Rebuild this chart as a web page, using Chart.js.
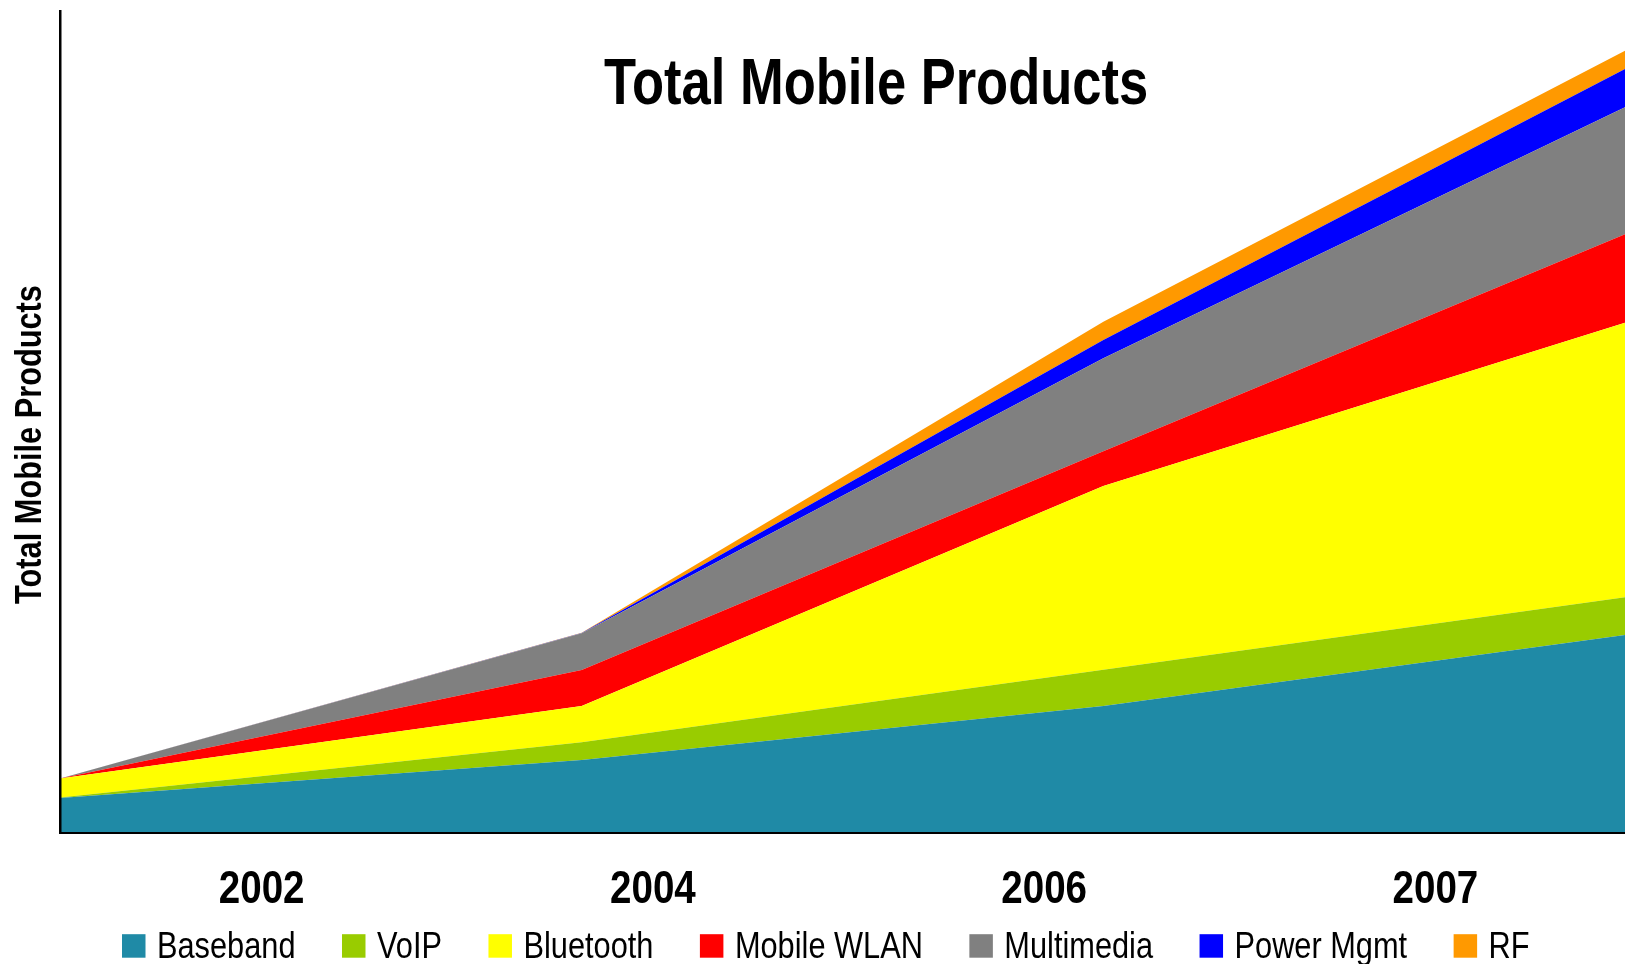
<!DOCTYPE html>
<html>
<head>
<meta charset="utf-8">
<script src="https://cdn.jsdelivr.net/npm/chart.js@4.4.1/dist/chart.umd.min.js"></script>
<style>
  html, body { margin: 0; padding: 0; background: #ffffff; }
  #wrap { position: relative; width: 1625px; height: 964px; overflow: hidden; }
  #chart { position: absolute; left: 0; top: 0; }
</style>
</head>
<body>
<div id="wrap">
  <canvas id="chart" width="1625" height="964"></canvas>
</div>
<script>
// ---- data (arbitrary units) ----
const years = ['2002', '2004', '2006', '2007'];
const seriesNames = ['Baseband', 'VoIP', 'Bluetooth', 'Mobile WLAN', 'Multimedia', 'Power Mgmt', 'RF'];
const seriesColors = ['#1F8AA6', '#99CC00', '#FFFF00', '#FF0000', '#808080', '#0000FF', '#FF9900'];
const baseband   = [35, 73, 127, 198];
const voip       = [0.5, 17.7, 36.2, 37.7];
const bluetooth  = [19, 36.3, 183.8, 274.6];
const mobileWlan = [0, 36, 34.7, 88.4];
const multimedia = [0, 36.7, 93, 127];
const powerMgmt  = [0, 0.3, 18.3, 38.3];
const rf         = [0, 0.3, 18.3, 18.3];
const yMax = 822;
const chartTitle = 'Total Mobile Products';
const yAxisTitle = 'Total Mobile Products';

const seriesValues = [baseband, voip, bluetooth, mobileWlan, multimedia, powerMgmt, rf];
const FONT = "'Liberation Sans', Arial, sans-serif";
const NARROW_SCALE = 0.82; // Arial Narrow look from Liberation Sans

const datasets = seriesNames.map((name, i) => ({
  label: name,
  data: seriesValues[i],
  backgroundColor: seriesColors[i],
  borderColor: 'rgba(0,0,0,0)',
  borderWidth: 0,
  pointRadius: 0,
  pointHoverRadius: 0,
  tension: 0,
  fill: i === 0 ? 'origin' : '-1',
  xAxisID: 'x',
  yAxisID: 'y'
}));

function narrowText(ctx, text, x, y, align) {
  ctx.save();
  ctx.translate(x, y);
  ctx.scale(NARROW_SCALE, 1);
  ctx.textAlign = align;
  ctx.textBaseline = 'alphabetic';
  ctx.fillText(text, 0, 0);
  ctx.restore();
}

const textPlugin = {
  id: 'texts',
  afterDraw(chart) {
    const ctx = chart.ctx;
    ctx.save();
    ctx.fillStyle = '#000';

    // chart title (inside the plot)
    ctx.font = 'bold 64px ' + FONT;
    narrowText(ctx, chartTitle, 876, 104, 'center');

    // y axis title
    ctx.save();
    ctx.translate(41, 444.5);
    ctx.rotate(-Math.PI / 2);
    ctx.font = 'bold 37.5px ' + FONT;
    narrowText(ctx, yAxisTitle, 0, 0, 'center');
    ctx.restore();

    // category labels, placed by the category axis
    const xs = chart.scales.x2;
    ctx.font = 'bold 47px ' + FONT;
    xs.getLabels().forEach((lab, i) => {
      narrowText(ctx, lab, xs.getPixelForTick(i) + 6, 903, 'center');
    });

    // legend
    ctx.font = '37.5px ' + FONT;
    let x = 122;
    const boxSize = 23.5, baseY = 957.7;
    chart.data.datasets.forEach(ds => {
      ctx.fillStyle = ds.backgroundColor;
      ctx.fillRect(x, baseY - boxSize, boxSize, boxSize);
      x += boxSize + 11.5;
      ctx.fillStyle = '#000';
      narrowText(ctx, ds.label, x, baseY, 'left');
      x += ctx.measureText(ds.label).width * NARROW_SCALE + 46.5;
    });
    ctx.restore();
  }
};

const chart = new Chart(document.getElementById('chart'), {
  type: 'line',
  data: { labels: years, datasets: datasets },
  options: {
    responsive: false,
    animation: false,
    devicePixelRatio: 1,
    layout: { padding: { top: 11, left: 0, right: 0, bottom: 0 } },
    plugins: {
      legend: { display: false },
      tooltip: { enabled: false },
      title: { display: false }
    },
    elements: { line: { borderWidth: 0 } },
    scales: {
      x: {
        type: 'category',
        display: false,
        offset: false
      },
      x2: {
        type: 'category',
        position: 'bottom',
        offset: true,
        labels: years,
        grid: { display: false, drawTicks: false },
        border: { display: true, color: '#000', width: 2, z: 1 },
        ticks: { display: false },
        afterFit(scale) { scale.height = 131; }
      },
      y: {
        type: 'linear',
        stacked: true,
        min: 0,
        max: yMax,
        grid: { display: false, drawTicks: false },
        border: { display: true, color: '#000', width: 2.5, z: 1 },
        ticks: { display: false },
        afterFit(scale) { scale.width = 60; }
      }
    }
  },
  plugins: [textPlugin]
});
</script>
</body>
</html>
